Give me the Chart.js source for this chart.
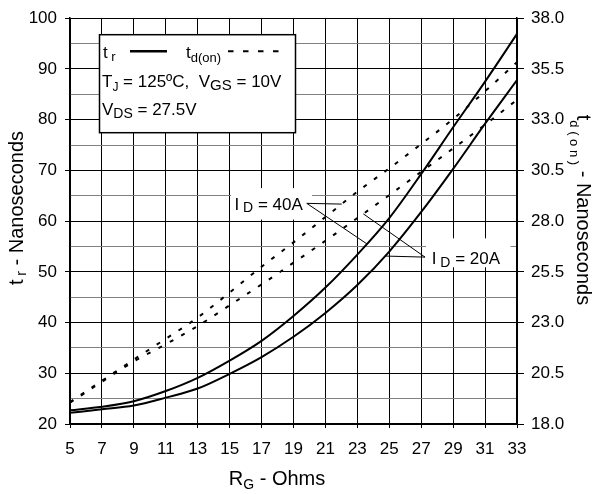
<!DOCTYPE html>
<html>
<head>
<meta charset="utf-8">
<script src="https://cdn.jsdelivr.net/npm/chart.js@4/dist/chart.umd.min.js"></script>
<style>
  html, body { margin: 0; padding: 0; background: #fff; }
  #wrap { width: 594px; height: 494px; }
</style>
</head>
<body>
<div id="wrap"><canvas id="c" width="594" height="494"></canvas></div>
<script>
// Gate resistance (Ohms)
const resistance = [5, 7, 9, 11, 13, 15, 17, 19, 21, 23, 25, 27, 29, 31, 33];
// Rise time t_r (ns), left axis
const riseTime40A = [22.7, 23.4, 24.5, 26.5, 29.1, 32.5, 36.4, 41.3, 46.9, 53.4, 60.6, 69.3, 78.5, 87.5, 96.9];
const riseTime20A = [22.2, 22.9, 23.65, 25.2, 27.0, 29.9, 33.2, 37.2, 41.9, 47.4, 54.0, 61.8, 70.3, 79.2, 87.8];
// Turn-on delay t_d(on) (ns), right axis
const delay40A = [19.08, 20.13, 21.18, 22.2, 23.25, 24.48, 25.75, 26.95, 28.2, 29.45, 30.6, 31.8, 33.03, 34.4, 35.83];
const delay20A = [19.05, 20.08, 21.08, 21.93, 22.83, 23.85, 24.88, 25.95, 27.03, 28.15, 29.28, 30.43, 31.58, 32.75, 33.98];

// Axis ranges and tick steps
const xRange = [5, 33], xStep = 2;
const leftRange = [20, 100], leftStep = 5, leftLabelStep = 10;
const rightRange = [18, 38], rightStep = 2.5;

const FONT = '"Liberation Sans", Arial, Helvetica, sans-serif';

function pts(ys) { return resistance.map((x, i) => ({ x: x, y: ys[i] })); }

// Current callouts: text anchor and pointer start in data units,
// pointer ends located on the curves by (dataset, R)
const callouts = [
  { main: 'I', sub: ' D', rest: ' = 40A', at: [15.3, 62.2], from: [19.83, 63.5],
    box: [15.09, 66.5, 20.16, 60.3], targets: [[2, 22.02], [0, 23.59]] },
  { main: 'I', sub: ' D', rest: ' = 20A', at: [27.66, 51.5], from: [27.24, 52.9],
    box: [27.3, 56.6, 32.6, 50.9], targets: [[3, 23.37], [1, 24.73]] }
];

function drawRich(ctx, parts, x, y) {
  for (const p of parts) {
    ctx.font = p.s + 'px ' + FONT;
    ctx.fillText(p.t, x, y + (p.dy || 0));
    x += ctx.measureText(p.t).width;
  }
  return x;
}
function richWidth(ctx, parts) {
  let w = 0;
  for (const p of parts) { ctx.font = p.s + 'px ' + FONT; w += ctx.measureText(p.t).width; }
  return w;
}
function valueAt(data, r) {
  for (let i = 0; i < data.length - 1; i++) {
    const a = data[i], b = data[i + 1];
    if (r >= a.x && r <= b.x) return a.y + (b.y - a.y) * (r - a.x) / (b.x - a.x);
  }
  return data[data.length - 1].y;
}

const decorations = {
  id: 'decorations',
  beforeDatasetsDraw(chart) {
    const ctx = chart.ctx, xs = chart.scales.x, ys = chart.scales.y, ca = chart.chartArea;
    ctx.save();
    ctx.fillStyle = '#fff';
    for (const c of callouts) {
      const x0 = xs.getPixelForValue(c.box[0]), y0 = ys.getPixelForValue(c.box[1]);
      const x1 = xs.getPixelForValue(c.box[2]), y1 = ys.getPixelForValue(c.box[3]);
      ctx.fillRect(x0, y0, x1 - x0, y1 - y0);
    }
    // Condition / legend box
    const bx = ca.left + 29, by = ca.top + 16, bw = 196, bh = 98;
    ctx.fillRect(bx, by, bw, bh);
    ctx.strokeStyle = '#000';
    ctx.lineWidth = 1.5;
    ctx.strokeRect(bx + 0.5, by + 0.5, bw, bh);
    ctx.restore();
  },
  afterDraw(chart) {
    const ctx = chart.ctx, xs = chart.scales.x, ys = chart.scales.y, ca = chart.chartArea;
    ctx.save();
    ctx.fillStyle = '#000';
    ctx.strokeStyle = '#000';
    ctx.textBaseline = 'alphabetic';
    ctx.textAlign = 'left';

    // Legend box contents
    const lx = ca.left + 33, ly = ca.top + 40;
    drawRich(ctx, [{ t: 't', s: 17 }, { t: ' r', s: 13, dy: 3 }], lx, ly);
    ctx.lineWidth = 2.5; ctx.setLineDash([]);
    ctx.beginPath(); ctx.moveTo(ca.left + 60, ly - 7); ctx.lineTo(ca.left + 97, ly - 7); ctx.stroke();
    drawRich(ctx, [{ t: 't', s: 17 }, { t: 'd(on)', s: 13, dy: 4 }], ca.left + 116, ly);
    ctx.lineWidth = 2; ctx.setLineDash([5.5, 9.5]);
    ctx.beginPath(); ctx.moveTo(ca.left + 158, ly - 7); ctx.lineTo(ca.left + 214, ly - 7); ctx.stroke();
    ctx.setLineDash([]);
    drawRich(ctx, [{ t: 'T', s: 17 }, { t: 'J', s: 12, dy: 4 }, { t: ' = 125ºC,  V', s: 17 },
                   { t: 'GS', s: 15, dy: 3 }, { t: ' = 10V', s: 17 }], lx - 1, ca.top + 69);
    drawRich(ctx, [{ t: 'V', s: 17 }, { t: 'DS', s: 14, dy: 3 }, { t: ' = 27.5V', s: 17 }], lx - 1, ca.top + 96.5);

    // Current callouts with pointer lines
    ctx.lineWidth = 1;
    for (const c of callouts) {
      drawRich(ctx, [{ t: c.main, s: 17 }, { t: c.sub, s: 14, dy: 2.5 }, { t: c.rest, s: 17 }],
               xs.getPixelForValue(c.at[0]), ys.getPixelForValue(c.at[1]));
      const fx = xs.getPixelForValue(c.from[0]), fy = ys.getPixelForValue(c.from[1]);
      for (const [di, r] of c.targets) {
        const ds = chart.data.datasets[di];
        const sc = chart.scales[ds.yAxisID];
        const tx = xs.getPixelForValue(r), ty = sc.getPixelForValue(valueAt(ds.data, r));
        ctx.beginPath(); ctx.moveTo(fx, fy); ctx.lineTo(tx, ty); ctx.stroke();
      }
    }

    // Axis titles
    const xt = [{ t: 'R', s: 20 }, { t: 'G', s: 14, dy: 4 }, { t: ' - Ohms', s: 20 }];
    drawRich(ctx, xt, 277 - richWidth(ctx, xt) / 2, 485);

    const lt = [{ t: 't', s: 20 }, { t: ' r', s: 14, dy: 3 }, { t: ' - Nanoseconds', s: 20 }];
    ctx.save();
    ctx.translate(23, 208); ctx.rotate(-Math.PI / 2);
    drawRich(ctx, lt, -richWidth(ctx, lt) / 2, 0);
    ctx.restore();

    const rt = [{ t: 't', s: 20 }, { t: 'd ( o n )', s: 13, dy: 7 }, { t: ' - Nanoseconds', s: 20 }];
    ctx.save();
    ctx.translate(577, 210); ctx.rotate(Math.PI / 2);
    drawRich(ctx, rt, -richWidth(ctx, rt) / 2, 0);
    ctx.restore();

    ctx.restore();
  }
};

const solid = { borderColor: '#000', borderWidth: 2, pointRadius: 0, fill: false, cubicInterpolationMode: 'monotone' };
const dashed = { borderColor: '#000', borderWidth: 2, borderDash: [4, 9], pointRadius: 0, fill: false, cubicInterpolationMode: 'monotone' };

new Chart(document.getElementById('c'), {
  type: 'line',
  data: {
    datasets: [
      Object.assign({ label: 't_r, I_D = 40A', data: pts(riseTime40A), yAxisID: 'y' }, solid),
      Object.assign({ label: 't_r, I_D = 20A', data: pts(riseTime20A), yAxisID: 'y' }, solid),
      Object.assign({ label: 't_d(on), I_D = 40A', data: pts(delay40A), yAxisID: 'y2' }, dashed),
      Object.assign({ label: 't_d(on), I_D = 20A', data: pts(delay20A), yAxisID: 'y2' }, dashed)
    ]
  },
  options: {
    responsive: false,
    animation: false,
    devicePixelRatio: 1,
    layout: { padding: { top: 15, left: 0, right: 0, bottom: 0 } },
    plugins: { legend: { display: false }, tooltip: { enabled: false } },
    scales: {
      x: {
        type: 'linear', min: xRange[0], max: xRange[1],
        ticks: { stepSize: xStep, autoSkip: false, maxRotation: 0, color: '#000', padding: 11,
                 font: { family: FONT, size: 17 } },
        grid: { color: '#000', lineWidth: 1, tickLength: 4, tickColor: '#000' },
        border: { display: true, color: '#000', width: 1.5 },
        afterFit(s) { s.height = 70; }
      },
      y: {
        type: 'linear', position: 'left', min: leftRange[0], max: leftRange[1],
        ticks: { stepSize: leftStep, autoSkip: false, color: '#000', padding: 8,
                 font: { family: FONT, size: 17 },
                 callback: v => (Math.round(v) % leftLabelStep === 0 ? String(Math.round(v)) : '') },
        grid: {
          lineWidth: 1, tickLength: 5,
          color: c => (c.tick && Math.round(c.tick.value) % leftLabelStep === 0 ? '#000' : '#808080'),
          tickColor: c => (c.tick && Math.round(c.tick.value) % leftLabelStep === 0 ? '#000' : 'rgba(0,0,0,0)')
        },
        border: { display: true, color: '#000', width: 1.5 },
        afterFit(s) { s.width = 70; }
      },
      y2: {
        type: 'linear', position: 'right', min: rightRange[0], max: rightRange[1],
        ticks: { stepSize: rightStep, autoSkip: false, color: '#000', padding: 7,
                 font: { family: FONT, size: 17 }, callback: v => Number(v).toFixed(1) },
        grid: { drawOnChartArea: false, tickLength: 7, tickColor: '#000', lineWidth: 1 },
        border: { display: true, color: '#000', width: 1.5 },
        afterFit(s) { s.width = 77; }
      }
    }
  },
  plugins: [decorations]
});
</script>
</body>
</html>
